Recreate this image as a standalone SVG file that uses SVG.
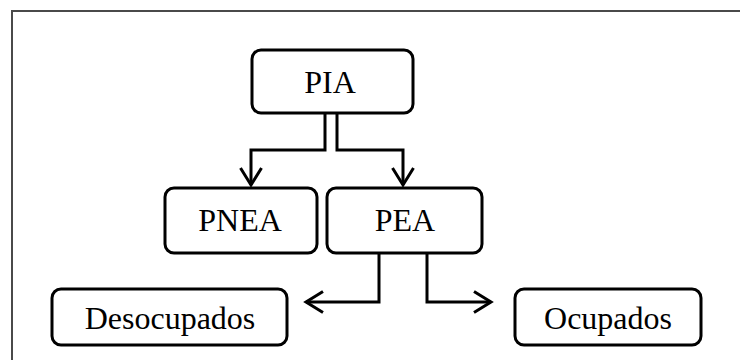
<svg xmlns="http://www.w3.org/2000/svg" width="740" height="360" viewBox="0 0 740 360">
  <style>
    .box { fill: #ffffff; stroke: #000000; stroke-width: 3; }
    .lbl { font-family: "Liberation Serif", "Times New Roman", serif; font-size: 32px; fill: #000000; text-anchor: middle; }
    .conn { fill: none; stroke: #000000; stroke-width: 3; }
    .frame { fill: none; stroke: #4a4a4a; stroke-width: 2; }
  </style>
  <defs>
    <marker id="arrow" markerUnits="userSpaceOnUse" markerWidth="26" markerHeight="28" viewBox="-21 -14 26 28" refX="0" refY="0" orient="auto">
      <path d="M-17,-10.5 L0,0 L-17,10.5" fill="none" stroke="#000000" stroke-width="3"/>
    </marker>
  </defs>
  <rect width="740" height="360" fill="#ffffff"/>
  <path class="frame" d="M12,360 L12,11 L740,11"/>

  <g id="connectors">
    <path class="conn" d="M325,113 L325,150 L251,150 L251,185" marker-end="url(#arrow)"/>
    <path class="conn" d="M337,113 L337,150 L403,150 L403,185" marker-end="url(#arrow)"/>
    <path class="conn" d="M379,253 L379,302 L306,302" marker-end="url(#arrow)"/>
    <path class="conn" d="M427,253 L427,302 L491,302" marker-end="url(#arrow)"/>
  </g>

  <g id="node-pia">
    <rect class="box" x="252" y="50" width="161" height="63" rx="9"/>
    <text class="lbl" x="330" y="93">PIA</text>
  </g>
  <g id="node-pnea">
    <rect class="box" x="165" y="188" width="152" height="65" rx="9"/>
    <text class="lbl" x="240" y="231">PNEA</text>
  </g>
  <g id="node-pea">
    <rect class="box" x="327" y="188" width="155" height="65" rx="9"/>
    <text class="lbl" x="405" y="231">PEA</text>
  </g>
  <g id="node-desocupados">
    <rect class="box" x="52" y="289" width="235" height="56" rx="9"/>
    <text class="lbl" x="170" y="329">Desocupados</text>
  </g>
  <g id="node-ocupados">
    <rect class="box" x="515" y="289" width="186" height="56" rx="9"/>
    <text class="lbl" x="608" y="329">Ocupados</text>
  </g>
</svg>
